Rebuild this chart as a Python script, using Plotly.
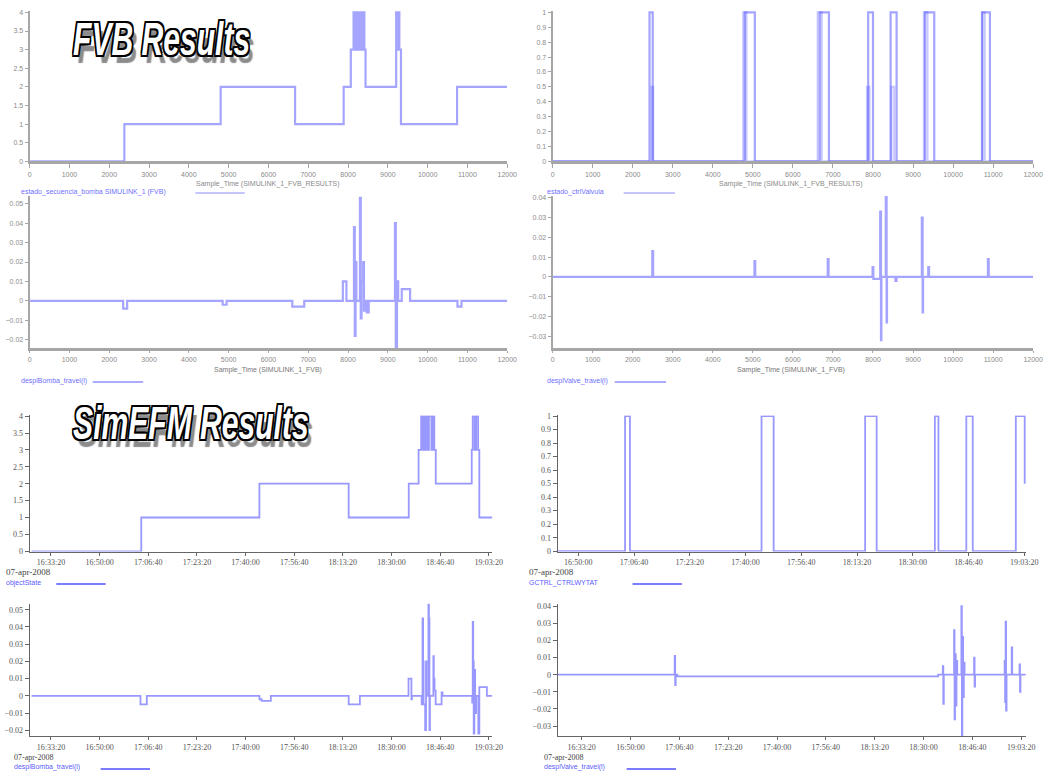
import plotly.graph_objects as go

# ---------------- DATA ----------------
# FVB row 1 left: state (0..4) vs sample time
fvb_state_x = [0, 2380, 4800, 6670, 7890, 8070, 8140, 8170, 8200, 8230, 8260, 8290, 8320, 8350,
               8380, 8410, 8440, 9210, 9230, 9260, 9290, 9330, 10740, 12000]
fvb_state_y = [0, 1, 2, 1, 2, 3, 4, 3, 4, 3, 4, 3, 4, 3, 4, 3, 2, 4, 3, 4, 3, 1, 2, 2]

# FVB row 1 right: control pulses (two overlaid signals)
fvb_ctrl_x = [0, 2420, 2500, 4800, 5050, 6670, 6900, 7880, 8000, 8440, 8590, 9300, 9530, 10730, 10920, 12000]
fvb_ctrl_y = [0, 1, 0, 1, 0, 1, 0, 1, 0, 1, 0, 1, 0, 1, 0, 0]
fvb_ctrl2_x = [0, 2470, 2510, 4760, 4840, 6620, 6720, 7850, 7910, 8460, 8530, 9270, 9360, 10720, 10790, 12000]
fvb_ctrl2_y = [0, 0.5, 0, 1, 0, 1, 0, 0.5, 0, 0.5, 0, 1, 0, 1, 0, 0]

# FVB row 2 left: displacement derivative
fvb_d1_x = [0, 2350, 2450, 4850, 4950, 6600, 6900, 7870, 7960, 8150, 8170, 8190, 8210, 8300, 8320,
            8340, 8380, 8400, 8420, 8470, 8520, 9180, 9200, 9230, 9260, 9350, 9560, 10750, 10850, 12000]
fvb_d1_y = [0, -0.004, 0, -0.002, 0, -0.003, 0, 0.01, 0, 0.038, -0.018, 0.02, 0, 0.053, -0.009,
            0.01, 0.02, -0.005, 0, -0.006, 0, 0.04, -0.025, 0.01, 0, 0.006, 0, -0.003, 0, 0]

# FVB row 2 right
fvb_d2_x = [0, 2490, 2510, 5040, 5060, 6870, 6890, 7990, 8010, 8180, 8200, 8210, 8320, 8340, 8350,
            8560, 8590, 9220, 9240, 9250, 9380, 9400, 10870, 10890, 12000]
fvb_d2_y = [0, 0.013, 0, 0.008, 0, 0.009, 0, 0.005, -0.001, 0.033, -0.032, 0, 0.041, -0.023, 0,
            -0.002, 0, 0.03, -0.018, 0, 0.005, 0, 0.009, 0, 0]

# SimEFM row 3 left: state vs clock time (07-apr-2008)
sim_state_t = ["16:26:40", "17:04:16", "17:44:45", "18:15:20", "18:35:55", "18:39:17", "18:40:10",
               "18:40:30", "18:40:50", "18:41:20", "18:41:50", "18:42:20", "18:42:50", "18:43:40",
               "18:44:10", "18:44:40", "18:45:10", "18:57:30", "18:57:50", "18:58:30", "18:59:00",
               "18:59:40", "19:00:06", "19:04:30"]
sim_state_y = [0, 1, 2, 1, 2, 3, 4, 3, 4, 3, 4, 3, 4, 3, 4, 3, 2, 3, 4, 3, 4, 3, 1, 1]

# SimEFM row 3 right: control pulses
sim_ctrl_t = ["16:44:00", "17:03:59", "17:05:27", "17:44:47", "17:48:24", "18:15:45", "18:19:12",
              "18:36:36", "18:37:40", "18:46:00", "18:47:55", "19:00:48", "19:03:27"]
sim_ctrl_y = [0, 1, 0, 1, 0, 1, 0, 1, 0, 1, 0, 1, 0.5]

# SimEFM row 4 left
sim_d1_t = ["16:26:40", "17:04:00", "17:06:10", "17:44:45", "17:45:30", "17:48:40", "18:15:20",
            "18:19:10", "18:35:50", "18:36:50", "18:37:00", "18:40:20", "18:40:38", "18:40:50",
            "18:41:00", "18:41:32", "18:41:50", "18:42:00", "18:42:40", "18:42:50", "18:43:00",
            "18:43:10", "18:44:21", "18:44:30", "18:44:45", "18:45:08", "18:47:10", "18:47:30",
            "18:57:40", "18:57:50", "18:58:00", "18:58:10", "18:58:24", "18:58:40", "18:59:00",
            "18:59:45", "19:00:06", "19:02:41", "19:04:30"]
sim_d1_y = [0, -0.005, 0, -0.002, -0.003, 0, -0.005, 0, 0.01, -0.002, 0, -0.005, 0.045, 0.02,
            -0.005, -0.02, 0.02, 0, 0.055, 0.045, -0.02, 0, 0.023, 0.01, 0.003, -0.005, 0.002, 0,
            -0.004, 0.043, 0.02, -0.022, 0.015, -0.01, 0, -0.022, 0.005, 0, 0]

# SimEFM row 4 right
sim_d2_t = ["16:25:10", "17:05:05", "17:05:15", "17:05:25", "17:06:00", "18:35:00", "18:36:35",
            "18:36:45", "18:36:55", "18:40:25", "18:40:35", "18:40:45", "18:41:00", "18:41:15",
            "18:41:30", "18:42:55", "18:43:05", "18:43:15", "18:43:30", "18:43:45", "18:44:00",
            "18:47:15", "18:47:25", "18:47:35", "18:57:40", "18:57:50", "18:58:00", "18:58:10",
            "18:58:20", "19:00:05", "19:00:15", "19:02:45", "19:02:55", "19:03:05", "19:04:50"]
sim_d2_y = [0, 0.011, -0.006, 0, -0.001, 0, 0.005, -0.017, 0, 0.026, -0.026, 0.012, -0.018, 0.008,
            0, 0.04, -0.036, 0.022, -0.013, 0.007, 0, 0.01, -0.007, 0, 0.008, -0.016, 0.031,
            -0.021, 0, 0.016, 0, 0.006, -0.01, 0, 0]

DATE = "2008-04-07 "
sim_state_x = [DATE + t for t in sim_state_t]
sim_ctrl_x = [DATE + t for t in sim_ctrl_t]
sim_d1_x = [DATE + t for t in sim_d1_t]
sim_d2_x = [DATE + t for t in sim_d2_t]

# ---------------- LAYOUT HELPERS ----------------
W, H = 1057, 779
def xd(a, b):
    return [a / W, b / W]
def yd(top, bottom):
    return [1 - bottom / H, 1 - top / H]

FVB_LINE = dict(color="rgba(40,40,255,0.42)", width=2.2, shape="hv")
SIM_LINE = dict(color="rgba(50,50,255,0.5)", width=1.8, shape="hv")

fig = go.Figure()
def add(x, y, ax, line):
    fig.add_trace(go.Scatter(x=x, y=y, mode="lines", line=line, xaxis="x" + ax, yaxis="y" + ax,
                             showlegend=False, hoverinfo="skip"))

add(fvb_state_x, fvb_state_y, "", FVB_LINE)
add(fvb_ctrl2_x, fvb_ctrl2_y, "2", dict(FVB_LINE, color="rgba(40,40,255,0.25)"))
add(fvb_ctrl_x, fvb_ctrl_y, "2", FVB_LINE)
add(fvb_d1_x, fvb_d1_y, "3", FVB_LINE)
add(fvb_d2_x, fvb_d2_y, "4", FVB_LINE)
add(sim_state_x, sim_state_y, "5", SIM_LINE)
add(sim_ctrl_x, sim_ctrl_y, "6", SIM_LINE)
add(sim_d1_x, sim_d1_y, "7", SIM_LINE)
add(sim_d2_x, sim_d2_y, "8", SIM_LINE)

fvb_font = dict(family="Liberation Sans, Arial, sans-serif", size=7, color="#8a8a8a")
sim_font = dict(family="Liberation Serif, Times New Roman, serif", size=8, color="#555")

def fvb_x(dom, anchor, tl):
    return dict(domain=dom, anchor=anchor, range=[0, 12000], tickmode="linear", tick0=0, dtick=1000,
                tickformat="d", showgrid=False, zeroline=False, showline=True, linewidth=3,
                linecolor="#a6a6a6", ticks="outside", ticklen=tl, tickcolor="#a6a6a6",
                tickfont=fvb_font, ticklabelstandoff=0)
def fvb_y(dom, anchor, rng, dt):
    return dict(domain=dom, anchor=anchor, range=rng, tickmode="linear", tick0=0, dtick=dt,
                showgrid=False, zeroline=False, showline=True, linewidth=2, linecolor="#a6a6a6",
                ticks="outside", ticklen=3, tickcolor="#a6a6a6", tickfont=fvb_font)
def sim_x(dom, anchor, rng):
    return dict(domain=dom, anchor=anchor, type="date", range=rng, tickmode="linear",
                tick0=DATE + "16:33:20", dtick=1000000, tickformat="%H:%M:%S",
                showgrid=False, zeroline=False, showline=True, linewidth=1, linecolor="#666",
                ticks="outside", ticklen=3, tickcolor="#666", tickfont=sim_font)
def sim_y(dom, anchor, rng, dt):
    return dict(domain=dom, anchor=anchor, range=rng, tickmode="linear", tick0=0, dtick=dt,
                showgrid=False, zeroline=False, showline=True, linewidth=1, linecolor="#666",
                ticks="outside", ticklen=4, tickcolor="#666", tickfont=sim_font)

L1, R1 = xd(28, 512), xd(558, 1045)
L2, R2 = xd(28, 497), xd(563, 1038)
fig.update_layout(
    width=W, height=H, margin=dict(l=0, r=0, t=0, b=0),
    paper_bgcolor="white", plot_bgcolor="white",
    xaxis=fvb_x(L1, "y", 4), yaxis=fvb_y(yd(7, 159), "x", [0, 4.04], 0.5),
    xaxis2=fvb_x(R1, "y2", 4), yaxis2=fvb_y(yd(7, 159), "x2", [0, 1.01], 0.1),
    xaxis3=fvb_x(L1, "y3", 2), yaxis3=fvb_y(yd(194, 348), "x3", [-0.0245, 0.054], 0.01),
    xaxis4=fvb_x(R1, "y4", 2), yaxis4=fvb_y(yd(194, 348), "x4", [-0.0362, 0.0409], 0.01),
    xaxis5=sim_x(L2, "y5", [DATE + "16:26:01", DATE + "19:04:35"]),
    yaxis5=sim_y(yd(415.7, 553.3), "x5", [-0.01, 4.02], 0.5),
    xaxis6=sim_x(R2, "y6", [DATE + "16:43:48", DATE + "19:03:55"]),
    yaxis6=sim_y(yd(415.7, 553.3), "x6", [-0.003, 1.005], 0.1),
    xaxis7=sim_x(L2, "y7", [DATE + "16:26:01", DATE + "19:04:35"]),
    yaxis7=sim_y(yd(606, 740), "x7", [-0.0236, 0.0535], 0.01),
    xaxis8=sim_x(R2, "y8", [DATE + "16:25:07", DATE + "19:05:03"]),
    yaxis8=sim_y(yd(606.7, 740), "x8", [-0.036, 0.041], 0.01),
)

ann = []
def text(x, y, s, font, anchor="left"):
    ann.append(dict(x=x / W, y=1 - y / H, xref="paper", yref="paper", text=s, showarrow=False,
                    xanchor=anchor, yanchor="middle", font=font))
def legend_line(x0, x1, y, color):
    fig.add_shape(type="line", xref="paper", yref="paper", x0=x0 / W, x1=x1 / W,
                  y0=1 - y / H, y1=1 - y / H, line=dict(color=color, width=2))

blue_small = dict(family="Liberation Sans, Arial, sans-serif", size=7, color="rgba(50,50,255,0.75)")
gray_small = dict(family="Liberation Sans, Arial, sans-serif", size=7, color="#8a8a8a")
dark_small = dict(family="Liberation Serif, Times New Roman, serif", size=9, color="#444")
blue_serif = dict(family="Liberation Sans, Arial, sans-serif", size=7, color="rgba(40,40,255,0.8)")

# FVB axis titles and legends
text(270, 182, "Sample_Time (SIMULINK_1_FVB_RESULTS)", gray_small, "center")
text(800, 182, "Sample_Time (SIMULINK_1_FVB_RESULTS)", gray_small, "center")
text(270, 370, "Sample_Time (SIMULINK_1_FVB)", dict(gray_small, color="#777"), "center")
text(800, 370, "Sample_Time (SIMULINK_1_FVB)", dict(gray_small, color="#777"), "center")
text(17, 190, "estado_secuencia_bomba SIMULINK_1 (FVB)", blue_small)
legend_line(196, 246, 191, "rgba(90,90,255,0.35)")
text(550, 190, "estado_ctrlValvula", blue_small)
legend_line(630, 682, 191, "rgba(90,90,255,0.35)")
text(17, 381, "desplBomba_travel(l)", blue_small)
legend_line(92, 143, 382, "rgba(90,90,255,0.5)")
text(550, 381, "desplValve_travel(l)", blue_small)
legend_line(621, 673, 382, "rgba(90,90,255,0.5)")

# SimEFM date labels and legends
text(2, 574, "07-apr-2008", dark_small)
text(2, 585, "objectState", blue_serif)
legend_line(55, 105, 586, "rgba(80,80,255,0.75)")
text(532, 574, "07-apr-2008", dark_small)
text(532, 585, "GCTRL_CTRLWYTAT", blue_serif)
legend_line(639, 689, 586, "rgba(80,80,255,0.75)")
text(10, 761, "07-apr-2008", dict(dark_small, size=8))
text(10, 771, "desplBomba_travel(l)", blue_serif)
legend_line(100, 150, 773, "rgba(80,80,255,0.75)")
text(547, 761, "07-apr-2008", dict(dark_small, size=8))
text(547, 771, "desplValve_travel(l)", blue_serif)
legend_line(633, 683, 773, "rgba(80,80,255,0.75)")

# Big outlined titles
title_font = dict(family="Liberation Sans, Arial, sans-serif",
                  size=47, color="white", weight="bold", style="italic",
                  shadow="-2px -2px 0 #000, 2px -2px 0 #000, -2px 2px 0 #000, 2px 2px 0 #000, "
                         "0 2px 0 #000, 2px 0 0 #000, 0 -2px 0 #000, -2px 0 0 #000, 6px 7px 1px #8c8c8c")
text(70, 35, "FVB Results", title_font)
text(70, 423, "SimEFM Results", title_font)

fig.update_layout(annotations=ann)

post = """
document.body.style.margin = '0';
document.querySelectorAll('text.annotation-text').forEach(function (t) {
  if (t.textContent.indexOf('Results') >= 0) {
    t.style.transformBox = 'fill-box';
    t.style.transformOrigin = '0% 50%';
    t.style.transform = 'scaleX(0.64)';
  }
});
"""
fig.write_html("out.html", post_script=post, config={"displayModeBar": False})
